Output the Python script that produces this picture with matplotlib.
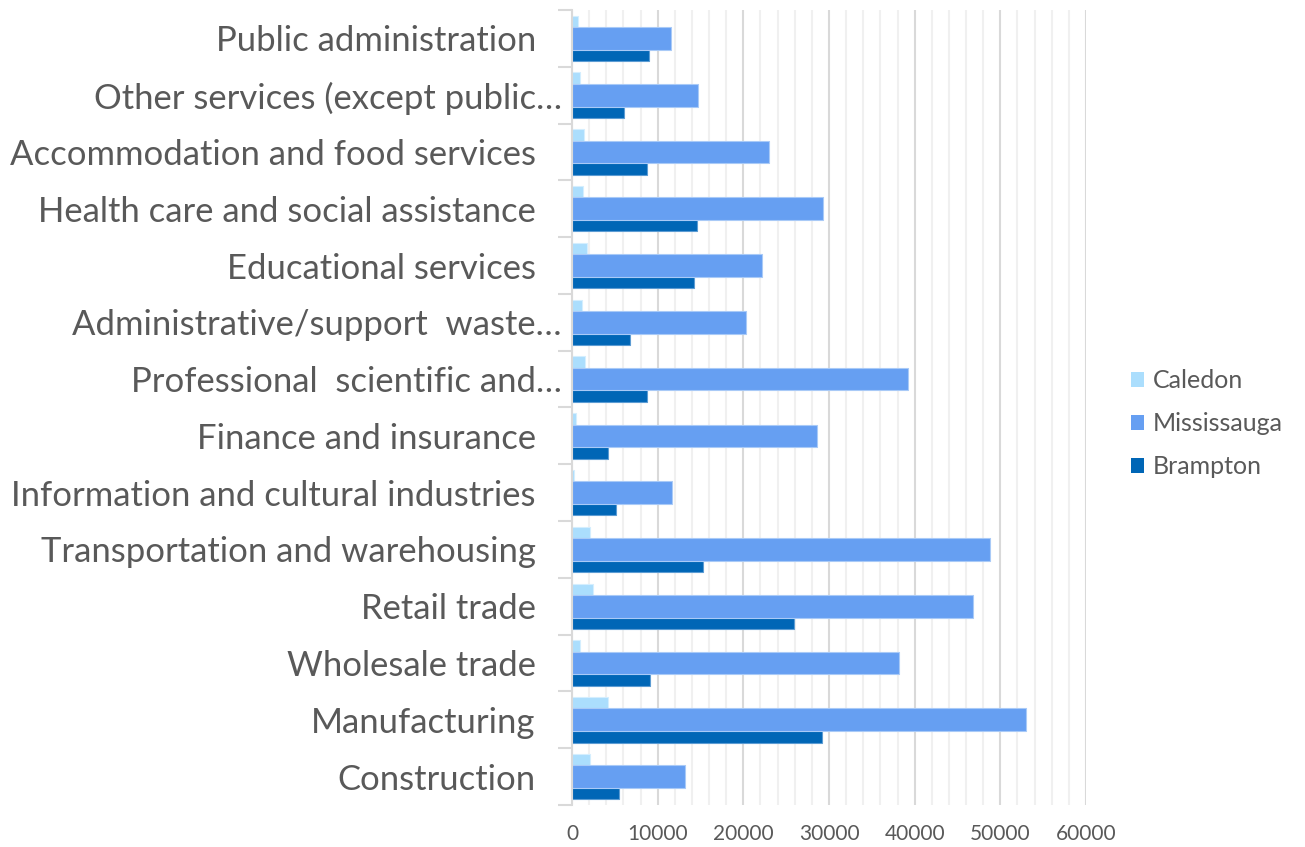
import numpy as np
import matplotlib
matplotlib.use('Agg')
import matplotlib.pyplot as plt
from matplotlib.patches import Patch
from matplotlib.ticker import MultipleLocator
from matplotlib.transforms import ScaledTranslation

plt.rcParams['font.family'] = ['Lato', 'DejaVu Sans']

# bottom to top, as drawn
industries = ['Construction', 'Manufacturing', 'Wholesale trade', 'Retail trade',
              'Transportation and warehousing', 'Information and cultural industries',
              'Finance and insurance', 'Professional  scientific and…',
              'Administrative/support  waste…', 'Educational services',
              'Health care and social assistance', 'Accommodation and food services',
              'Other services (except public…', 'Public administration']
caledon = [2140, 4210, 940, 2420, 2140, 200, 430, 1480, 1130, 1790, 1250, 1400, 890, 690]
mississauga = [13250, 52980, 38130, 46780, 48810, 11730, 28620, 39180, 20310, 22220,
               29280, 22960, 14740, 11560]
brampton = [5500, 29200, 9120, 25890, 15240, 5150, 4250, 8810, 6820, 14230, 14540,
            8730, 6130, 8950]

c_cal = '#ABDEFD'
c_mis = '#669FF2'
c_bra = '#0066B6'
text_col = '#595959'

fig = plt.figure(figsize=(13.05, 8.47), dpi=100)
ax = fig.add_axes([0.4383, 0.0496, 0.3939, 0.9386])

y = np.arange(len(industries))
h = 0.40
ax.barh(y + 0.2, caledon, height=h, color=c_cal, edgecolor='#D4EEFE', linewidth=0.8, zorder=3)
ax.barh(y - 0.2, brampton, height=h, color=c_bra, edgecolor='#5C9CD3', linewidth=0.8, zorder=3)
ax.barh(y, mississauga, height=h, color=c_mis, edgecolor='#A9CAF7', linewidth=0.8, zorder=4)

ax.set_xlim(0, 60000)
ax.set_ylim(-0.5, len(industries) - 0.5)
ax.xaxis.set_major_locator(MultipleLocator(10000))
ax.xaxis.set_minor_locator(MultipleLocator(2000))
ax.grid(axis='x', which='major', color='#D9D9D9', linewidth=1.5, zorder=1)
ax.grid(axis='x', which='minor', color='#F0F0F0', linewidth=1.5, zorder=0)

ax.set_yticks(y)
ax.set_yticklabels(industries, fontsize=24.9, color=text_col)
ax.set_yticks(np.arange(-0.5, len(industries)), minor=True)
ax.tick_params(axis='y', which='major', length=0, pad=26)
ax.tick_params(axis='y', which='minor', length=10, width=1.5, color='#D9D9D9')
ax.tick_params(axis='x', which='both', length=0, labelsize=15, labelcolor=text_col, pad=14)

# truncated labels run a bit further right, as in the original
shift = ScaledTranslation(0.26, 0, fig.dpi_scale_trans)
for lbl in ax.get_yticklabels():
    if lbl.get_text().endswith('…'):
        lbl.set_transform(lbl.get_transform() + shift)

for s in ['top', 'right', 'bottom']:
    ax.spines[s].set_visible(False)
ax.spines['left'].set_color('#D9D9D9')
ax.spines['left'].set_linewidth(1.5)
ax.spines['left'].set_zorder(5)

handles = [Patch(facecolor=c_cal), Patch(facecolor=c_mis), Patch(facecolor=c_bra)]
fig.legend(handles, ['Caledon', 'Mississauga', 'Brampton'], loc='center left',
           bbox_to_anchor=(0.8495, 0.4995), frameon=False, fontsize=18,
           handlelength=0.52, handleheight=0.52, handletextpad=0.35,
           labelspacing=0.8, labelcolor=text_col)

fig.savefig('out.png', dpi=100)
